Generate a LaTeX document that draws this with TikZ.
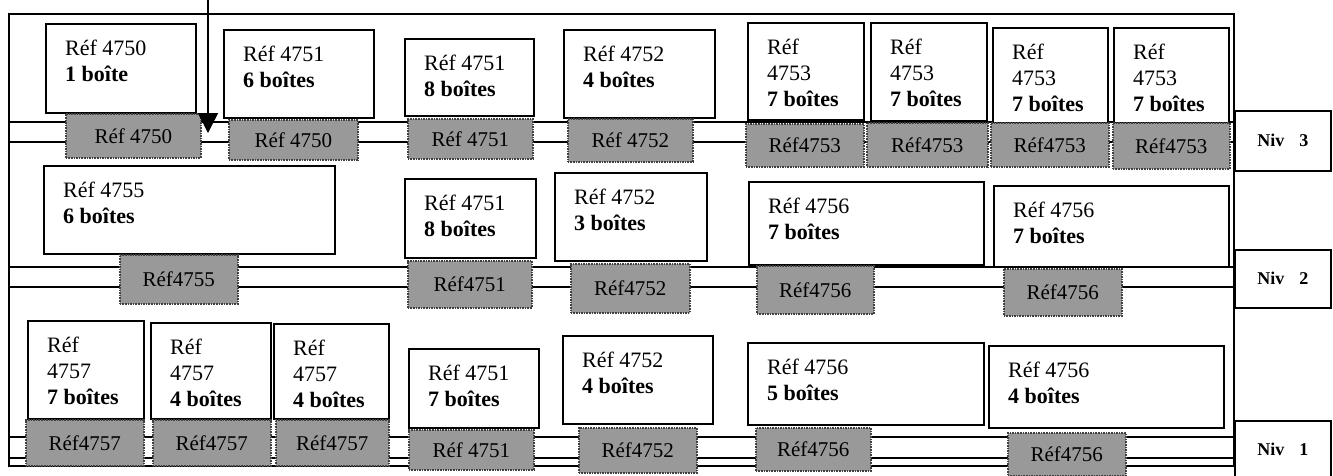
\documentclass[tikz,border=0pt]{standalone}
\usepackage{fontspec}
\setmainfont{Liberation Serif}
\usetikzlibrary{arrows.meta}

\tikzset{
  carton/.style={draw, line width=1.5pt, fill=white, anchor=north west, inner sep=0pt},
  txt/.style={anchor=north west, inner sep=0pt, xshift=20pt, yshift=-17pt, align=left,
    font=\fontsize{22}{26}\selectfont},
  palette/.style={draw=black!75, densely dotted, line width=1.6pt, fill=black!40,
    anchor=north west, inner sep=0pt, font=\fontsize{21}{24}\selectfont},
  niv/.style={draw, line width=1.5pt, fill=white, anchor=north west, inner sep=0pt,
    minimum width=96pt, font=\bfseries\fontsize{18}{20}\selectfont},
  beam/.style={line width=1.5pt},
}

\begin{document}
\begin{tikzpicture}[x=1pt, y=-1pt]
\useasboundingbox (0,0) rectangle (1333,475);

% rack frame
\draw[line width=1.6pt] (9,14) rectangle (1234,466);

% levels
\node[niv, minimum height=60pt] (niv3) at (1234,110) {Niv\hspace{15pt}3};
\node[niv, minimum height=58pt] (niv2) at (1234,249) {Niv\hspace{15pt}2};
\node[niv, minimum height=58pt] (niv1) at (1234,420) {Niv\hspace{15pt}1};

% beams
\coordinate (l3a) at (9,122);
\coordinate (l3b) at (9,142);
\coordinate (l2a) at (9,267);
\coordinate (l2b) at (9,287);
\coordinate (l1a) at (9,437);
\coordinate (l1b) at (9,458);
\draw[beam] (l3a) -- (l3a -| niv3.west);
\draw[beam] (l3b) -- (l3b -| niv3.west);
\draw[beam] (l2a) -- (l2a -| niv2.west);
\draw[beam] (l2b) -- (l2b -| niv2.west);
\draw[beam] (l1a) -- (l1a -| niv1.west);
\draw[beam] (l1b) -- (l1b -| niv1.west);

% level 3
\node[carton, minimum width=150pt, minimum height=89pt, label={[txt]north west:{Réf 4750\\\textbf{1 boîte}}}] (c31) at (45,23) {};
\node[carton, minimum width=150pt, minimum height=88pt, label={[txt]north west:{Réf 4751\\\textbf{6 boîtes}}}] (c32) at (223,29) {};
\node[carton, minimum width=129pt, minimum height=77pt, label={[txt]north west:{Réf 4751\\\textbf{8 boîtes}}}] (c33) at (404,38) {};
\node[carton, minimum width=151pt, minimum height=88pt, label={[txt]north west:{Réf 4752\\\textbf{4 boîtes}}}] (c34) at (563,29) {};
\node[carton, minimum width=116pt, minimum height=97pt, label={[txt]north west:{Réf\\4753\\\textbf{7 boîtes}}}] (c35) at (747,22) {};
\node[carton, minimum width=116pt, minimum height=98pt, label={[txt]north west:{Réf\\4753\\\textbf{7 boîtes}}}] (c36) at (870,22) {};
\node[carton, minimum width=115pt, minimum height=95pt, label={[txt]north west:{Réf\\4753\\\textbf{7 boîtes}}}] (c37) at (992,27) {};
\node[carton, minimum width=115pt, minimum height=95pt, label={[txt]north west:{Réf\\4753\\\textbf{7 boîtes}}}] (c38) at (1113,27) {};

\node[palette, minimum width=135pt, minimum height=44pt] (p31) at (65,113) {Réf 4750};
\node[palette, minimum width=129pt, minimum height=40pt] (p32) at (228,119) {Réf 4750};
\node[palette, minimum width=125pt, minimum height=40pt] (p33) at (407,118) {Réf 4751};
\node[palette, minimum width=125pt, minimum height=43pt] (p34) at (567,118) {Réf 4752};
\node[palette, minimum width=118pt, minimum height=43pt] (p35) at (745,123) {Réf4753};
\node[palette, minimum width=121pt, minimum height=44pt] (p36) at (866,122) {Réf4753};
\node[palette, minimum width=118pt, minimum height=44pt] (p37) at (990,122) {Réf4753};
\node[palette, minimum width=117pt, minimum height=46pt] (p38) at (1112,122) {Réf4753};

% level 2
\node[carton, minimum width=291pt, minimum height=88pt, label={[txt]north west:{Réf 4755\\\textbf{6 boîtes}}}] (c21) at (43,165) {};
\node[carton, minimum width=131pt, minimum height=79pt, label={[txt]north west:{Réf 4751\\\textbf{8 boîtes}}}] (c22) at (404,178) {};
\node[carton, minimum width=152pt, minimum height=88pt, label={[txt]north west:{Réf 4752\\\textbf{3 boîtes}}}] (c23) at (554,172) {};
\node[carton, minimum width=235pt, minimum height=83pt, label={[txt]north west:{Réf 4756\\\textbf{7 boîtes}}}] (c24) at (748,181) {};
\node[carton, minimum width=235pt, minimum height=81pt, label={[txt]north west:{Réf 4756\\\textbf{7 boîtes}}}] (c25) at (993,185) {};

\node[palette, minimum width=118pt, minimum height=49pt] (p21) at (119,254) {Réf4755};
\node[palette, minimum width=124pt, minimum height=47pt] (p22) at (407,260) {Réf4751};
\node[palette, minimum width=119pt, minimum height=49pt] (p23) at (570,263) {Réf4752};
\node[palette, minimum width=117pt, minimum height=48pt] (p24) at (756,265) {Réf4756};
\node[palette, minimum width=118pt, minimum height=47pt] (p25) at (1003,268) {Réf4756};

% level 1
\node[carton, minimum width=116pt, minimum height=98pt, label={[txt]north west:{Réf\\4757\\\textbf{7 boîtes}}}] (c11) at (27,320) {};
\node[carton, minimum width=120pt, minimum height=96pt, label={[txt]north west:{Réf\\4757\\\textbf{4 boîtes}}}] (c12) at (150,322) {};
\node[carton, minimum width=115pt, minimum height=95pt, label={[txt]north west:{Réf\\4757\\\textbf{4 boîtes}}}] (c13) at (273,323) {};
\node[carton, minimum width=130pt, minimum height=79pt, label={[txt]north west:{Réf 4751\\\textbf{7 boîtes}}}] (c14) at (408,348) {};
\node[carton, minimum width=150pt, minimum height=88pt, label={[txt]north west:{Réf 4752\\\textbf{4 boîtes}}}] (c15) at (562,335) {};
\node[carton, minimum width=236pt, minimum height=82pt, label={[txt]north west:{Réf 4756\\\textbf{5 boîtes}}}] (c16) at (747,342) {};
\node[carton, minimum width=235pt, minimum height=82pt, label={[txt]north west:{Réf 4756\\\textbf{4 boîtes}}}] (c17) at (988,345) {};

\node[palette, minimum width=118pt, minimum height=46pt] (p11) at (25,419) {Réf4757};
\node[palette, minimum width=118pt, minimum height=46pt] (p12) at (152,419) {Réf4757};
\node[palette, minimum width=113pt, minimum height=46pt] (p13) at (275,419) {Réf4757};
\node[palette, minimum width=125pt, minimum height=40pt] (p14) at (408,429) {Réf 4751};
\node[palette, minimum width=118pt, minimum height=45pt] (p15) at (578,427) {Réf4752};
\node[palette, minimum width=115pt, minimum height=43pt] (p16) at (755,427) {Réf4756};
\node[palette, minimum width=118pt, minimum height=43pt] (p17) at (1007,432) {Réf4756};

% entry arrow
\coordinate (src) at (208,-2);
\coordinate (tip) at (208,133);
\draw[line width=1.5pt, -{Triangle[width=20pt,length=20pt]}] (src) -- (tip);
\end{tikzpicture}
\end{document}
